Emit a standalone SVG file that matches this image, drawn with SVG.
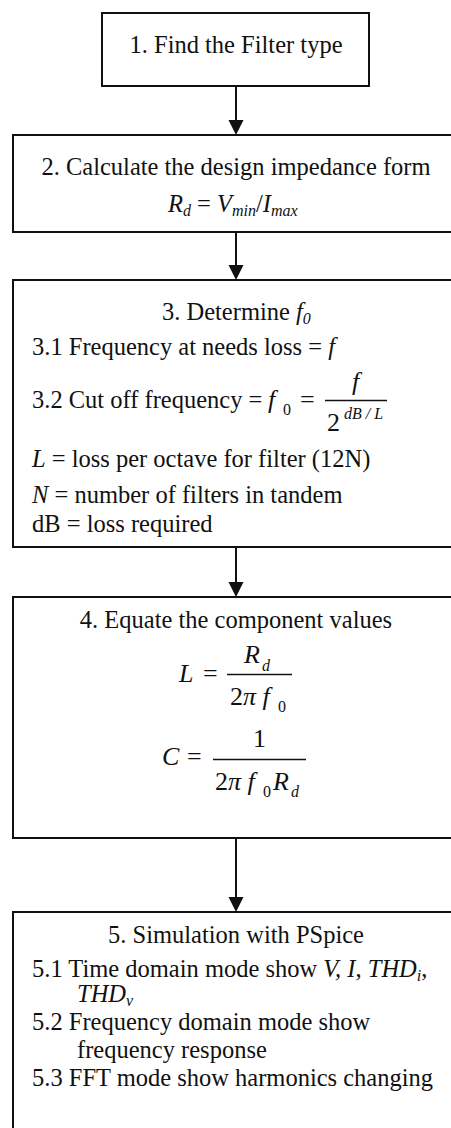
<svg xmlns="http://www.w3.org/2000/svg" width="451" height="1128" viewBox="0 0 451 1128">
<style>
.box{fill:#fff;stroke:#111;stroke-width:2}
text{font-family:"Liberation Serif",Tinos,"Times New Roman",Times,"DejaVu Serif",serif;font-size:24.5px;fill:#111}
.c{text-anchor:middle}
.i{font-style:italic}
.m{font-size:26px}
.s{font-size:16px}
.conn line{stroke:#111;stroke-width:2}
.conn polygon{fill:#111}
.fl{stroke:#111;stroke-width:1.5}
</style>
<rect width="451" height="1128" fill="#fff"/>
<g id="node1">
<rect class="box" x="102" y="13" width="267" height="73"/>
<text class="c" x="236" y="53" font-family="Liberation Serif, serif">1. Find the Filter type</text>
</g>
<g id="node2">
<rect class="box" x="13" y="135" width="450" height="97"/>
<text class="c" x="236" y="175">2. Calculate the design impedance form</text>
<text x="168" y="212"><tspan class="i">R</tspan><tspan class="i s" dy="4">d</tspan><tspan dy="-4"> = </tspan><tspan class="i">V</tspan><tspan class="i s" dy="4">min</tspan><tspan dy="-4">/</tspan><tspan class="i">I</tspan><tspan class="i s" dy="4">max</tspan></text>
</g>
<g id="node3">
<rect class="box" x="13" y="280" width="450" height="267"/>
<text x="162" y="320">3. Determine <tspan class="i">f</tspan><tspan class="i s" dy="4">0</tspan></text>
<text x="32" y="355">3.1 Frequency at needs loss = <tspan class="i">f</tspan></text>
<text x="32" y="408">3.2 Cut off frequency = </text>
<text class="i m" x="268" y="408">f</text>
<text class="s" x="283" y="415">0</text>
<text class="m" x="300" y="408">=</text>
<text class="i m" x="352" y="390">f</text>
<line class="fl" x1="325" y1="400.5" x2="387" y2="400.5"/>
<text class="m" x="327" y="431">2</text>
<text class="i s" x="344" y="419">dB / L</text>
<text x="32" y="467"><tspan class="i">L</tspan> = loss per octave for filter (12N)</text>
<text x="32" y="503"><tspan class="i">N</tspan> = number of filters in tandem</text>
<text x="32" y="532">dB = loss required</text>
</g>
<g id="node4">
<rect class="box" x="13" y="597" width="450" height="241"/>
<text class="c" x="236" y="628">4. Equate the component values</text>
<text class="i m" x="179" y="682">L</text>
<text class="m" x="203" y="682">=</text>
<text class="i m" x="244" y="663">R</text>
<text class="i s" x="262" y="671">d</text>
<line class="fl" x1="227" y1="674.5" x2="292" y2="674.5"/>
<text class="m" x="230" y="705">2<tspan class="i">π f</tspan></text>
<text class="s" x="278" y="712">0</text>
<text class="i m" x="162" y="765">C</text>
<text class="m" x="187" y="765">=</text>
<text class="m" x="253" y="747">1</text>
<line class="fl" x1="213" y1="759.5" x2="306" y2="759.5"/>
<text class="m" x="215" y="790">2<tspan class="i">π f</tspan></text>
<text class="s" x="263" y="797">0</text>
<text class="i m" x="273" y="790">R</text>
<text class="i s" x="291" y="797">d</text>
</g>
<g id="node5">
<rect class="box" x="13" y="912" width="450" height="230"/>
<text class="c" x="236" y="943">5. Simulation with PSpice</text>
<text x="32" y="977">5.1 Time domain mode show <tspan class="i">V, I</tspan>, <tspan class="i">THD</tspan><tspan class="i s" dy="4">i</tspan><tspan dy="-4">,</tspan></text>
<text x="77" y="1002"><tspan class="i">THD</tspan><tspan class="i s" dy="4">v</tspan></text>
<text x="32" y="1030">5.2 Frequency domain mode show</text>
<text x="77" y="1058">frequency response</text>
<text x="32" y="1086">5.3 FFT mode show harmonics changing</text>
</g>
<g id="connectors" class="conn">
<line x1="236" y1="86" x2="236" y2="122"/>
<polygon points="228.5,120 243.5,120 236,135"/>
<line x1="236" y1="232" x2="236" y2="267"/>
<polygon points="228.5,265 243.5,265 236,280"/>
<line x1="236" y1="547" x2="236" y2="584"/>
<polygon points="228.5,582 243.5,582 236,597"/>
<line x1="236" y1="838" x2="236" y2="899"/>
<polygon points="228.5,897 243.5,897 236,912"/>
</g>
</svg>
